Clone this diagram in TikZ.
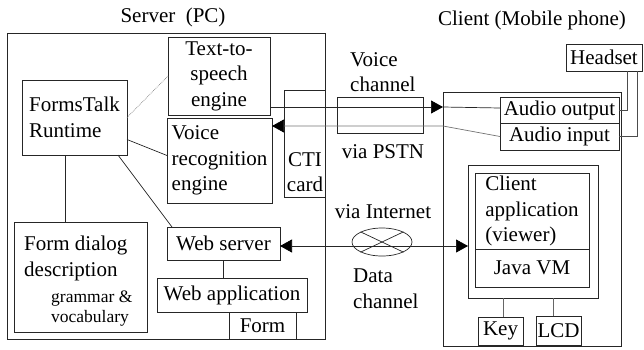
\documentclass[tikz,border=0pt]{standalone}
\usepackage{fontspec}
\setmainfont{Liberation Serif}
\usetikzlibrary{arrows.meta,shapes.geometric,calc}

\begin{document}
\begin{tikzpicture}[x=1pt,y=-1pt,
  every node/.style={font=\fontsize{21}{25.5}\selectfont},
  box/.style={draw=black!85, line width=0.7pt, inner sep=0pt, outer sep=0pt},
  wire/.style={draw=black!85, line width=0.7pt},
  >={Triangle[length=12pt,width=13pt,color=black]},
  small/.style={font=\fontsize{17.5}{19.5}\selectfont},
]
\useasboundingbox (0,0) rectangle (644,349);

% ---------------- server side ----------------
\node (servertitle) at (173,17) {Server\ \ (PC)};
\node[box, minimum width=318pt, minimum height=306pt] (server) at (166,186) {};

\node[box, minimum width=102pt, minimum height=78pt, align=center] (tts) at (219,76) {Text-to-\\speech\\engine};
\node[box, minimum width=105pt, minimum height=85pt, align=left] (vr) at (219.5,160.5) {Voice\\recognition\\engine};
\node[box, minimum width=105pt, minimum height=75pt, align=left] (runtime) at (74.5,117.5) {FormsTalk\\Runtime};
\node[box, minimum width=41pt, minimum height=107pt] (cti) at (304.5,143.5) {};
\node[align=center, inner sep=0pt] (ctitext) at (305,172) {CTI\\card};

\node[box, minimum width=113pt, minimum height=33pt] (websrv) at (223.5,243.5) {Web server};
\node[box, minimum width=150pt, minimum height=34pt] (webapp) at (232,295) {Web application};
\node[box, minimum width=67pt, minimum height=27pt] (form) at (262.5,325.5) {Form};

\node[box, minimum width=133pt, minimum height=110pt] (fdd) at (80.5,277) {};
\node[anchor=north west, align=left, inner sep=0pt] (fddtitle) at (24,236) {Form dialog\\description};
\node[small, anchor=north west, align=left, inner sep=0pt] (fddsub) at (51,291) {grammar \&\\vocabulary};

% internal links of the server
\draw[wire, densely dotted, black!50] (runtime.east) -- (tts.west);
\draw[wire] ($(runtime.east)+(0,22)$) -- ($(vr.west)+(0,-5)$);
\draw[wire] ($(runtime.south east)+(-9,0)$) -- ($(websrv.north west)+(5,0)$);
\coordinate (rt) at ($(runtime.south)+(-9.5,0)$);
\draw[wire] (rt) -- (rt |- fdd.north);
\draw[wire] (websrv.south) -- (websrv.south |- webapp.north);

% ---------------- client side ----------------
\node (clienttitle) at (532,20) {Client (Mobile phone)};
\node[box, minimum width=178pt, minimum height=254pt] (client) at (532,219) {};
\node[box, minimum width=76pt, minimum height=27pt] (headset) at (604,57.5) {Headset};
\node[box, minimum width=119pt, minimum height=26pt] (aout) at (559.5,110) {Audio output};
\node[box, minimum width=119pt, minimum height=27pt] (ain) at (559.5,136.5) {Audio input};

\node[box, minimum width=130pt, minimum height=133pt] (capp) at (533,231.5) {};
\node[box, minimum width=114pt, minimum height=76pt, align=left] (viewer) at (532,211) {Client\\application\\(viewer)};
\node[box, minimum width=114pt, minimum height=38pt] (jvm) at (532,268) {Java VM};
\node[box, minimum width=45pt, minimum height=28pt] (key) at (500.5,331) {Key};
\node[box, minimum width=45pt, minimum height=29pt] (lcd) at (558.5,330.5) {LCD};

\draw[wire, black!60] ($(key.north)+(2.5,0)$) coordinate (k) -- (k |- capp.south);
\draw[wire, black!60] ($(lcd.north)+(-5.5,0)$) coordinate (l) -- (l |- capp.south);

\draw[wire, black!70] ($(headset.south)+(23,0)$) |- (aout.east);
\draw[wire, black!70] ($(headset.south)+(33,0)$) |- (ain.east);

% ---------------- voice channel ----------------
\node[anchor=north west, align=left, inner sep=0pt] (voicelbl) at (350,52) {Voice\\channel};
\node[box, minimum width=86pt, minimum height=36pt] (pstn) at (380,115) {};
\node (pstnlbl) at (383,152) {via PSTN};

\coordinate (vo) at ($(tts.south east)+(0,-8)$);
\draw[wire, ->] (vo) -- (vo -| client.west);
\draw[wire] (vo -| client.west) -- ($(aout.west)+(0,-2)$);

\coordinate (vi) at ($(vr.north east)+(0,8)$);
\draw[wire, draw=black!55, ->] (ain.west) -- (vi -| client.west) -- (vi);

% ---------------- data channel ----------------
\node (netlbl) at (383,212) {via Internet};
\node[ellipse, draw=black!85, line width=0.7pt, minimum width=60pt, minimum height=28pt, inner sep=0pt] (net) at (382,242) {};
\draw[wire] (net.north west) -- (net.south east);
\draw[wire] (net.south west) -- (net.north east);
\node[anchor=north west, align=left, inner sep=0pt] (datalbl) at (353,269) {Data\\channel};

\coordinate (dl) at ($(websrv.east)+(0,2.5)$);
\draw[wire, <->] (dl) -- (dl -| capp.west);

\end{tikzpicture}
\end{document}
